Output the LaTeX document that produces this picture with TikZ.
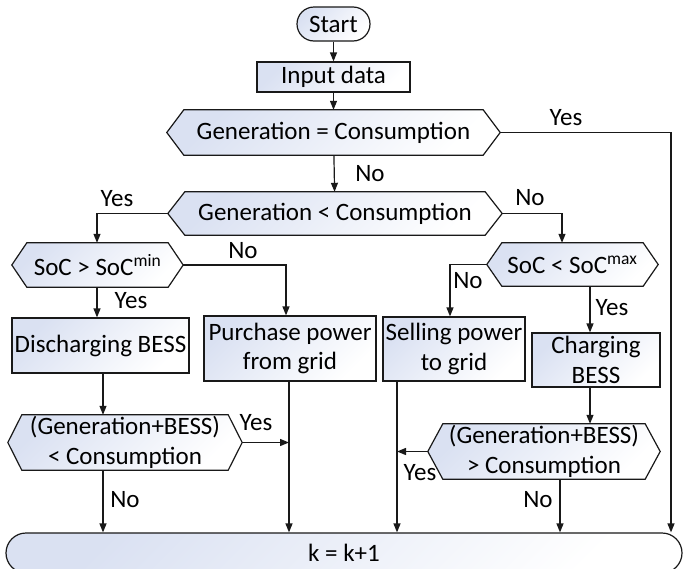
\documentclass[tikz,border=0pt]{standalone}
\usepackage{fontspec}
\setmainfont{Carlito}
\usetikzlibrary{arrows.meta,backgrounds,calc}
\definecolor{fillc}{RGB}{218,225,242}
\definecolor{linec}{RGB}{25,25,25}
\tikzset{
 every node/.style={font=\fontsize{25}{29.5}\selectfont},
 boxfill/.style={top color=fillc, middle color=fillc!20!white, bottom color=white, shading angle=45},
 procbox/.style={draw=linec, line width=1.2pt, boxfill, inner sep=0pt, align=center},
 hexnode/.style={inner sep=0pt, align=center},
 hexpath/.style={draw=linec, line width=1.2pt, boxfill},
 arr/.style={draw=linec, line width=1.2pt, -{Triangle[length=9pt,width=7pt]}},
 lbl/.style={anchor=base, inner sep=0pt},
}
\newcommand\hexdraw[2]{\path[hexpath] (#1.west) -- ([xshift=#2pt]#1.north west) -- ([xshift=-#2pt]#1.north east) -- (#1.east) -- ([xshift=-#2pt]#1.south east) -- ([xshift=#2pt]#1.south west) -- cycle;}
\begin{document}
\begin{tikzpicture}[x=1pt,y=-1pt]
\useasboundingbox (0,0) rectangle (683,568);
% process boxes
\node[procbox, rounded corners=17pt, minimum width=73pt, minimum height=34pt] (start) at (333.5,24) {Start};
\node[procbox, minimum width=153pt, minimum height=30pt] (inp) at (333.5,77) {Input data};
\node[procbox, minimum width=177pt, minimum height=55pt] (dis) at (100.5,345.5) {Discharging BESS};
\node[procbox, minimum width=172pt, minimum height=65pt] (pur) at (290,348.5) {Purchase power\\from grid};
\node[procbox, minimum width=142pt, minimum height=64pt] (sel) at (454,349) {Selling power\\to grid};
\node[procbox, minimum width=128pt, minimum height=54pt] (cha) at (596,360) {Charging\\BESS};
\node[procbox, rounded corners=20pt, minimum width=676pt, minimum height=40pt] (kbox) at (344,553) {k = k+1};
% decision nodes
\node[hexnode, minimum width=333pt, minimum height=45pt] (gc) at (333.5,132.5) {Generation = Consumption};
\node[hexnode, minimum width=334pt, minimum height=43pt] (gl) at (335,213.5) {Generation < Consumption};
\node[hexnode, minimum width=171pt, minimum height=44pt] (smin) at (97.5,265) {SoC > SoC\textsuperscript{min}};
\node[hexnode, minimum width=171pt, minimum height=43pt] (smax) at (572.5,264.5) {SoC < SoC\textsuperscript{max}};
\node[hexnode, minimum width=234pt, minimum height=55pt] (hl) at (125,442.5) {(Generation+BESS)\\< Consumption};
\node[hexnode, minimum width=232pt, minimum height=55pt] (hr) at (544,451.5) {(Generation+BESS)\\> Consumption};
\begin{scope}[on background layer]
\hexdraw{gc}{17}
\hexdraw{gl}{17}
\hexdraw{smin}{15}
\hexdraw{smax}{15}
\hexdraw{hl}{14}
\hexdraw{hr}{15}
\end{scope}
% columns
\coordinate (cA) at (97,0);
\coordinate (cB) at (103,0);
\coordinate (cC) at (286,0);
\coordinate (cD) at (289,0);
\coordinate (cF) at (397,0);
\coordinate (cE) at (450,0);
\coordinate (cI) at (560,0);
\coordinate (cG) at (562,0);
\coordinate (cH) at (590,0);
\coordinate (cR) at (671,0);
% connectors
\draw[arr] (start) -- (inp);
\draw[arr] (inp) -- (gc);
\draw[arr] (gc) -- (gl);
\draw[arr] (gc.east) -| (cR |- kbox.north);
\draw[arr] (gl.west) -| (cA |- smin.north);
\draw[arr] (gl.east) -| (cG |- smax.north);
\draw[arr] (smin.east) -| (cC |- pur.north);
\draw[arr] (cA |- smin.south) -- (cA |- dis.north);
\draw[arr] (smax.west) -| (cE |- sel.north);
\draw[arr] (cH |- smax.south) -- (cH |- cha.north);
\draw[arr] (cB |- dis.south) -- (cB |- hl.north);
\draw[arr] (cB |- hl.south) -- (cB |- kbox.north);
\draw[arr] (hl.east) -- (cD |- hl.east);
\draw[arr] (cD |- pur.south) -- (cD |- kbox.north);
\draw[arr] (cF |- sel.south) -- (cF |- kbox.north);
\draw[arr] (hr.west) -- (cF |- hr.west);
\draw[arr] (cH |- cha.south) -- (cH |- hr.north);
\draw[arr] (cI |- hr.south) -- (cI |- kbox.north);
% labels
\node[lbl] (l1) at (566,125) {Yes};
\node[lbl] (l2) at (370,181) {No};
\node[lbl] (l3) at (117,206) {Yes};
\node[lbl] (l4) at (530,205) {No};
\node[lbl] (l5) at (243,258) {No};
\node[lbl] (l6) at (131,308) {Yes};
\node[lbl] (l7) at (468,288) {No};
\node[lbl] (l8) at (612,315) {Yes};
\node[lbl] (l9) at (256,430) {Yes};
\node[lbl] (l10) at (125,507) {No};
\node[lbl] (l11) at (420,480) {Yes};
\node[lbl] (l12) at (538,507) {No};
\end{tikzpicture}
\end{document}
